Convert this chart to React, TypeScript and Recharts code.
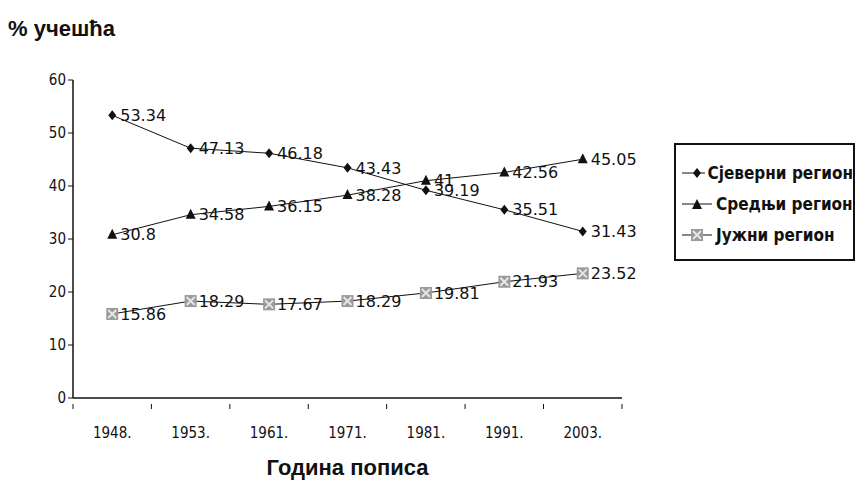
import { LineChart, Line, XAxis, YAxis, Legend, LabelList } from 'recharts';

const years = ['1948.', '1953.', '1961.', '1971.', '1981.', '1991.', '2003.'];
const north = [53.34, 47.13, 46.18, 43.43, 39.19, 35.51, 31.43];
const middle = [30.8, 34.58, 36.15, 38.28, 41, 42.56, 45.05];
const south = [15.86, 18.29, 17.67, 18.29, 19.81, 21.93, 23.52];
const yTicks = [0, 10, 20, 30, 40, 50, 60];

const seriesNames = {
  north: 'Сјеверни регион',
  middle: 'Средњи регион',
  south: 'Јужни регион',
};

const data = years.map((year, i) => ({ year, north: north[i], middle: middle[i], south: south[i] }));

const HALF_BAND = 39.25;
const narrow = '"DejaVu Sans Condensed", "Liberation Sans Narrow", sans-serif';
const labelFont = '"DejaVu Sans", sans-serif';
const bold = '"Liberation Sans", Arial, sans-serif';

function Diamond({ cx, cy }: any) {
  if (cx == null || cy == null) return null;
  return <path d={`M${cx},${cy - 5} L${cx + 4},${cy} L${cx},${cy + 5} L${cx - 4},${cy} Z`} fill="#111" />;
}

function Triangle({ cx, cy }: any) {
  if (cx == null || cy == null) return null;
  return <path d={`M${cx},${cy - 6} L${cx + 5},${cy + 4} L${cx - 5},${cy + 4} Z`} fill="#111" />;
}

function Square({ cx, cy }: any) {
  if (cx == null || cy == null) return null;
  return (
    <g>
      <rect x={cx - 6} y={cy - 6} width={12} height={12} fill="#9a9a9a" />
      <path d={`M${cx - 4},${cy - 4} L${cx + 4},${cy + 4} M${cx + 4},${cy - 4} L${cx - 4},${cy + 4}`} stroke="#e6e6e6" strokeWidth={2} />
    </g>
  );
}

function XTick({ x, y, payload, index }: any) {
  const axisY = y - 2;
  return (
    <g>
      <line x1={x - HALF_BAND} y1={axisY} x2={x - HALF_BAND} y2={axisY + 5} stroke="#111" />
      {index === years.length - 1 && (
        <line x1={x + HALF_BAND} y1={axisY} x2={x + HALF_BAND} y2={axisY + 5} stroke="#111" />
      )}
      <text x={x} y={axisY + 34} textAnchor="middle" fontSize={15} fontFamily={narrow} fill="#111">
        {payload.value}
      </text>
    </g>
  );
}

function LegendBox() {
  const items = [
    { key: 'north', marker: <Diamond cx={17} cy={8} /> },
    { key: 'middle', marker: <Triangle cx={17} cy={9} /> },
    { key: 'south', marker: <Square cx={17} cy={8} /> },
  ];
  return (
    <div style={{ border: '2px solid #111', width: 181, height: 118, padding: '12px 0 0 4px', boxSizing: 'border-box', background: '#fff' }}>
      {items.map((it) => (
        <div key={it.key} style={{ display: 'flex', alignItems: 'center', height: 31, whiteSpace: 'nowrap' }}>
          <svg width={34} height={16}>
            <line x1={2} y1={8} x2={32} y2={8} stroke="#111" strokeWidth={1} />
            {it.marker}
          </svg>
          <span style={{ fontFamily: narrow, fontWeight: 'bold', fontSize: 17, color: '#111', marginLeft: 2 }}>
            {seriesNames[it.key as keyof typeof seriesNames]}
          </span>
        </div>
      ))}
    </div>
  );
}

const labelStyle = { fontSize: 16, fill: '#111', fontFamily: labelFont };

export default function App() {
  return (
    <div style={{ position: 'absolute', left: 0, top: 0, width: 857, height: 482, background: '#fff' }}>
      <div style={{ position: 'absolute', left: 8, top: 16, fontFamily: bold, fontWeight: 'bold', fontSize: 22, color: '#111' }}>
        % учешћа
      </div>
      <LineChart width={857} height={482} data={data} margin={{ top: 80, right: 235, bottom: 0, left: 33 }}>
        <XAxis
          dataKey="year"
          height={84}
          padding={{ left: HALF_BAND, right: HALF_BAND }}
          axisLine={{ stroke: '#111', strokeWidth: 1.5 }}
          tickLine={false}
          tick={<XTick />}
          interval={0}
          label={{ value: 'Година пописа', position: 'insideBottom', offset: 7, fontSize: 22, fontWeight: 'bold', fill: '#111', fontFamily: bold }}
        />
        <YAxis
          domain={[0, 60]}
          ticks={yTicks}
          width={40}
          axisLine={{ stroke: '#111', strokeWidth: 1.5 }}
          tickLine={{ stroke: '#111' }}
          tickSize={5}
          tick={{ fontSize: 15, fill: '#111', fontFamily: narrow }}
        />
        <Legend layout="vertical" align="center" verticalAlign="middle" wrapperStyle={{ left: 674, top: 143, width: 183 }} content={<LegendBox />} />
        <Line dataKey="north" name={seriesNames.north} stroke="#111" strokeWidth={1} dot={<Diamond />} isAnimationActive={false}>
          <LabelList dataKey="north" position="right" offset={8} style={labelStyle} />
        </Line>
        <Line dataKey="middle" name={seriesNames.middle} stroke="#111" strokeWidth={1} dot={<Triangle />} isAnimationActive={false}>
          <LabelList dataKey="middle" position="right" offset={8} style={labelStyle} />
        </Line>
        <Line dataKey="south" name={seriesNames.south} stroke="#111" strokeWidth={1} dot={<Square />} isAnimationActive={false}>
          <LabelList dataKey="south" position="right" offset={8} style={labelStyle} />
        </Line>
      </LineChart>
    </div>
  );
}
